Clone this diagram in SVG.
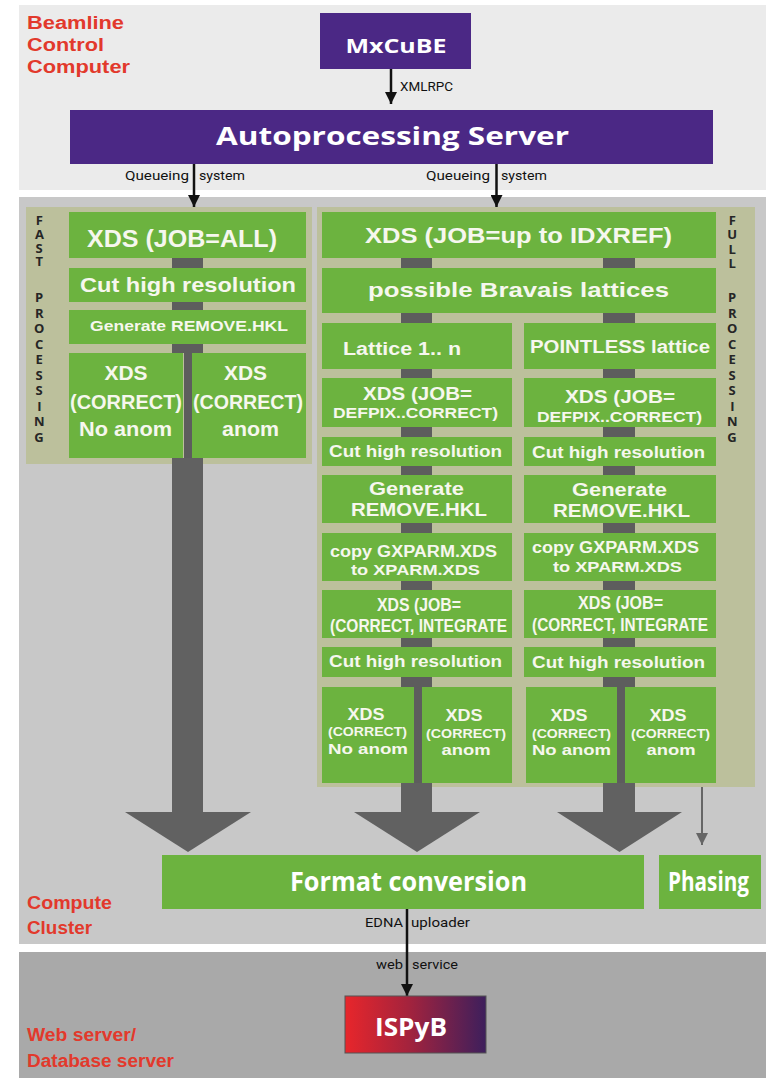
<svg xmlns="http://www.w3.org/2000/svg" width="769" height="1078" viewBox="0 0 769 1078">
<defs>
<style>
.pt{fill:#ebebeb}.pm{fill:#c8c8c8}.pb{fill:#a9a9a9}
.bg{fill:#bcc09c}
.g{fill:#6cb33f}
.pu{fill:#4b2885}
.st{fill:#5d5d5d}
.big{fill:#616161}
.t{font-family:"Liberation Sans",Arial,sans-serif;font-weight:700;fill:#f6f7ee;text-anchor:middle}
.w{font-family:"Open Sans","DejaVu Sans",sans-serif;font-weight:700;fill:#ffffff;text-anchor:middle}
.lb{font-family:"Liberation Sans",Arial,sans-serif;font-weight:700;fill:#e2392c;font-size:18px}
.sm{font-family:Roboto,"Liberation Sans",sans-serif;font-size:13px;fill:#111}
.vt{font-family:"Open Sans","DejaVu Sans",sans-serif;font-weight:700;font-size:13px;fill:#262626;writing-mode:vertical-rl;text-orientation:upright}
.ar{stroke:#111;stroke-width:2.5;fill:none}
.arg{stroke:#666;stroke-width:2;fill:none}
</style>
<marker id="ah" viewBox="0 0 10 10" refX="10" refY="5" markerWidth="12" markerHeight="12" markerUnits="userSpaceOnUse" orient="auto"><path d="M0,0L10,5L0,10z" fill="#111"/></marker>
<marker id="ahg" viewBox="0 0 10 10" refX="10" refY="5" markerWidth="14" markerHeight="12" markerUnits="userSpaceOnUse" orient="auto"><path d="M0,0L10,5L0,10z" fill="#666"/></marker>
<linearGradient id="isp" x1="0" y1="0" x2="1" y2="0"><stop offset="0" stop-color="#e8262b"/><stop offset="0.45" stop-color="#a4233d"/><stop offset="1" stop-color="#3d1f5c"/></linearGradient>
</defs>

<g id="panel-beamline">
<rect class="pt" x="19" y="5" width="747" height="185"/>
<text class="lb" x="27" y="29" font-size="17" textLength="97" lengthAdjust="spacingAndGlyphs">Beamline</text>
<text class="lb" x="27" y="51" font-size="17" textLength="77" lengthAdjust="spacingAndGlyphs">Control</text>
<text class="lb" x="27" y="73" font-size="17" textLength="103" lengthAdjust="spacingAndGlyphs">Computer</text>
</g>
<g id="panel-cluster">
<rect class="pm" x="19" y="197" width="747" height="747"/>
<text class="lb" x="27" y="909" textLength="85" lengthAdjust="spacingAndGlyphs">Compute</text>
<text class="lb" x="27" y="934" textLength="65" lengthAdjust="spacingAndGlyphs">Cluster</text>
</g>
<g id="panel-web">
<rect class="pb" x="19" y="952" width="747" height="126"/>
<text class="lb" x="27" y="1041" textLength="109" lengthAdjust="spacingAndGlyphs">Web server/</text>
<text class="lb" x="27" y="1067" textLength="147" lengthAdjust="spacingAndGlyphs">Database server</text>
</g>

<g id="mxcube">
<rect class="pu" x="320" y="13" width="151" height="56"/>
<text class="w" x="396" y="53" font-size="19" textLength="101" lengthAdjust="spacingAndGlyphs">MxCuBE</text>
</g>
<g id="autoprocessing-server">
<rect class="pu" x="70" y="110" width="643" height="54"/>
<text class="w" x="392.5" y="144.5" font-size="25" textLength="353" lengthAdjust="spacingAndGlyphs">Autoprocessing Server</text>
</g>

<g id="fast-processing">
<rect class="bg" x="26" y="207" width="286" height="257"/>
<text class="vt" x="39" y="211" letter-spacing="-4.2">FAST</text>
<text class="vt" x="39" y="288" letter-spacing="-2.5">PROCESSING</text>
</g>
<g id="full-processing">
<rect class="bg" x="317" y="207" width="438" height="580"/>
<text class="vt" x="732" y="211" letter-spacing="-3.7">FULL</text>
<text class="vt" x="732" y="288" letter-spacing="-2.5">PROCESSING</text>
</g>

<g id="connectors">
<line class="ar" x1="391" y1="69" x2="391" y2="104" marker-end="url(#ah)"/>
<text class="sm" x="400" y="91" textLength="53" lengthAdjust="spacingAndGlyphs">XMLRPC</text>
<line class="ar" x1="194" y1="164" x2="194" y2="207" marker-end="url(#ah)"/>
<text class="sm" x="189" y="180" text-anchor="end" textLength="64" lengthAdjust="spacingAndGlyphs">Queueing</text>
<text class="sm" x="199" y="180" textLength="46" lengthAdjust="spacingAndGlyphs">system</text>
<line class="ar" x1="496.5" y1="164" x2="496.5" y2="207" marker-end="url(#ah)"/>
<text class="sm" x="490" y="180" text-anchor="end" textLength="64" lengthAdjust="spacingAndGlyphs">Queueing</text>
<text class="sm" x="501" y="180" textLength="46" lengthAdjust="spacingAndGlyphs">system</text>
<rect class="st" x="172" y="258" width="31" height="10"/>
<rect class="st" x="172" y="302" width="31" height="8"/>
<rect class="st" x="172" y="344" width="31" height="9"/>
<rect class="st" x="184" y="344" width="8" height="114"/>
<rect class="big" x="172" y="458" width="31" height="355"/>
<polygon class="big" points="125,812 251,812 188,852"/>
<rect class="st" x="401" y="258" width="31" height="10"/>
<rect class="st" x="401" y="313" width="31" height="10"/>
<rect class="st" x="401" y="369" width="31" height="9"/>
<rect class="st" x="401" y="427" width="31" height="10"/>
<rect class="st" x="401" y="466" width="31" height="9"/>
<rect class="st" x="401" y="523" width="31" height="10"/>
<rect class="st" x="401" y="581" width="31" height="9"/>
<rect class="st" x="401" y="638" width="31" height="9"/>
<rect class="st" x="401" y="677" width="31" height="10"/>
<rect class="st" x="414" y="677" width="8" height="106"/>
<rect class="big" x="401" y="783" width="31" height="30"/>
<polygon class="big" points="354,812 480,812 417,852"/>
<rect class="st" x="603" y="258" width="32" height="10"/>
<rect class="st" x="603" y="313" width="32" height="10"/>
<rect class="st" x="603" y="369" width="32" height="9"/>
<rect class="st" x="603" y="427" width="32" height="10"/>
<rect class="st" x="603" y="466" width="32" height="9"/>
<rect class="st" x="603" y="523" width="32" height="10"/>
<rect class="st" x="603" y="581" width="32" height="9"/>
<rect class="st" x="603" y="638" width="32" height="9"/>
<rect class="st" x="603" y="677" width="32" height="10"/>
<rect class="st" x="617" y="677" width="8" height="106"/>
<rect class="big" x="603" y="783" width="32" height="30"/>
<polygon class="big" points="557,812 682,812 619.5,852"/>
<line class="arg" x1="702" y1="787" x2="702" y2="845" marker-end="url(#ahg)"/>
<line class="ar" x1="407" y1="909" x2="407" y2="996" marker-end="url(#ah)"/>
<text class="sm" x="403" y="927" text-anchor="end" textLength="38" lengthAdjust="spacingAndGlyphs">EDNA</text>
<text class="sm" x="411" y="927" textLength="59" lengthAdjust="spacingAndGlyphs">uploader</text>
<text class="sm" x="403" y="969" text-anchor="end" textLength="27" lengthAdjust="spacingAndGlyphs">web</text>
<text class="sm" x="412" y="969" textLength="46" lengthAdjust="spacingAndGlyphs">service</text>
</g>

<g id="fast-xds-all"><rect class="g" x="69" y="212" width="237" height="46"/><text class="t" x="182" y="246.5" font-size="24" textLength="190" lengthAdjust="spacingAndGlyphs">XDS (JOB=ALL)</text></g>
<g id="fast-cut"><rect class="g" x="69" y="268" width="237" height="34"/><text class="t" x="188" y="291.5" font-size="21" textLength="216" lengthAdjust="spacingAndGlyphs">Cut high resolution</text></g>
<g id="fast-remove"><rect class="g" x="69" y="310" width="237" height="34"/><text class="t" x="189" y="331" font-size="15" textLength="198" lengthAdjust="spacingAndGlyphs">Generate REMOVE.HKL</text></g>
<g id="fast-noanom"><rect class="g" x="69" y="353" width="114" height="105"/>
<text class="t" x="126" y="380" font-size="20" textLength="43" lengthAdjust="spacingAndGlyphs">XDS</text>
<text class="t" x="126" y="409" font-size="20" textLength="112" lengthAdjust="spacingAndGlyphs">(CORRECT)</text>
<text class="t" x="125.5" y="436" font-size="20" textLength="93" lengthAdjust="spacingAndGlyphs">No anom</text></g>
<g id="fast-anom"><rect class="g" x="192" y="353" width="114" height="105"/>
<text class="t" x="245.5" y="380" font-size="20" textLength="43" lengthAdjust="spacingAndGlyphs">XDS</text>
<text class="t" x="248" y="409" font-size="20" textLength="110" lengthAdjust="spacingAndGlyphs">(CORRECT)</text>
<text class="t" x="250.5" y="436" font-size="20" textLength="57" lengthAdjust="spacingAndGlyphs">anom</text></g>

<g id="full-xds-idxref"><rect class="g" x="322" y="212" width="394" height="46"/><text class="t" x="518.5" y="243" font-size="22" textLength="307" lengthAdjust="spacingAndGlyphs">XDS (JOB=up to IDXREF)</text></g>
<g id="full-bravais"><rect class="g" x="322" y="268" width="394" height="45"/><text class="t" x="518.5" y="297" font-size="21" textLength="301" lengthAdjust="spacingAndGlyphs">possible Bravais lattices</text></g>

<g id="l-lattice"><rect class="g" x="322" y="323" width="190" height="46"/><text class="t" x="402" y="355" font-size="18" textLength="118" lengthAdjust="spacingAndGlyphs">Lattice 1.. n</text></g>
<g id="r-pointless"><rect class="g" x="524" y="323" width="192" height="46"/><text class="t" x="620" y="352.5" font-size="18" textLength="180" lengthAdjust="spacingAndGlyphs">POINTLESS lattice</text></g>

<g id="l-defpix"><rect class="g" x="322" y="378" width="190" height="49"/>
<text class="t" x="417.5" y="400" font-size="18" textLength="109" lengthAdjust="spacingAndGlyphs">XDS (JOB=</text>
<text class="t" x="415.5" y="418" font-size="15" textLength="165" lengthAdjust="spacingAndGlyphs">DEFPIX..CORRECT)</text></g>
<g id="r-defpix"><rect class="g" x="524" y="378" width="192" height="49"/>
<text class="t" x="620" y="403" font-size="18" textLength="110" lengthAdjust="spacingAndGlyphs">XDS (JOB=</text>
<text class="t" x="619.5" y="421.5" font-size="15" textLength="165" lengthAdjust="spacingAndGlyphs">DEFPIX..CORRECT)</text></g>

<g id="l-cut1"><rect class="g" x="322" y="437" width="190" height="29"/><text class="t" x="415.5" y="456.5" font-size="16" textLength="173" lengthAdjust="spacingAndGlyphs">Cut high resolution</text></g>
<g id="r-cut1"><rect class="g" x="524" y="437" width="192" height="29"/><text class="t" x="618.5" y="458" font-size="16" textLength="173" lengthAdjust="spacingAndGlyphs">Cut high resolution</text></g>

<g id="l-remove"><rect class="g" x="322" y="475" width="190" height="48"/>
<text class="t" x="416.5" y="495" font-size="18" textLength="95" lengthAdjust="spacingAndGlyphs">Generate</text>
<text class="t" x="419" y="516" font-size="18" textLength="136" lengthAdjust="spacingAndGlyphs">REMOVE.HKL</text></g>
<g id="r-remove"><rect class="g" x="524" y="475" width="192" height="48"/>
<text class="t" x="619.5" y="496" font-size="18" textLength="95" lengthAdjust="spacingAndGlyphs">Generate</text>
<text class="t" x="621.5" y="517" font-size="18" textLength="137" lengthAdjust="spacingAndGlyphs">REMOVE.HKL</text></g>

<g id="l-copy"><rect class="g" x="322" y="533" width="190" height="48"/>
<text class="t" x="413.5" y="556.5" font-size="16" textLength="167" lengthAdjust="spacingAndGlyphs">copy GXPARM.XDS</text>
<text class="t" x="415.5" y="574.5" font-size="15" textLength="129" lengthAdjust="spacingAndGlyphs">to XPARM.XDS</text></g>
<g id="r-copy"><rect class="g" x="524" y="533" width="192" height="48"/>
<text class="t" x="615.5" y="553" font-size="16" textLength="167" lengthAdjust="spacingAndGlyphs">copy GXPARM.XDS</text>
<text class="t" x="617.5" y="571.5" font-size="15" textLength="129" lengthAdjust="spacingAndGlyphs">to XPARM.XDS</text></g>

<g id="l-integrate"><rect class="g" x="322" y="590" width="190" height="48"/>
<text class="t" x="419" y="611" font-size="18" textLength="84" lengthAdjust="spacingAndGlyphs">XDS (JOB=</text>
<text class="t" x="418.5" y="632" font-size="18" textLength="177" lengthAdjust="spacingAndGlyphs">(CORRECT, INTEGRATE</text></g>
<g id="r-integrate"><rect class="g" x="524" y="590" width="192" height="48"/>
<text class="t" x="620.5" y="609" font-size="18" textLength="85" lengthAdjust="spacingAndGlyphs">XDS (JOB=</text>
<text class="t" x="620" y="630.5" font-size="18" textLength="176" lengthAdjust="spacingAndGlyphs">(CORRECT, INTEGRATE</text></g>

<g id="l-cut2"><rect class="g" x="322" y="647" width="190" height="30"/><text class="t" x="415.5" y="667" font-size="16" textLength="173" lengthAdjust="spacingAndGlyphs">Cut high resolution</text></g>
<g id="r-cut2"><rect class="g" x="524" y="647" width="192" height="30"/><text class="t" x="618.5" y="668" font-size="16" textLength="173" lengthAdjust="spacingAndGlyphs">Cut high resolution</text></g>

<g id="l-noanom"><rect class="g" x="322" y="687" width="92" height="96"/>
<text class="t" x="366" y="720" font-size="16" textLength="37" lengthAdjust="spacingAndGlyphs">XDS</text>
<text class="t" x="367.5" y="736" font-size="13" textLength="79" lengthAdjust="spacingAndGlyphs">(CORRECT)</text>
<text class="t" x="368" y="753.5" font-size="15" textLength="80" lengthAdjust="spacingAndGlyphs">No anom</text></g>
<g id="l-anom"><rect class="g" x="422" y="687" width="90" height="96"/>
<text class="t" x="464" y="721" font-size="16" textLength="37" lengthAdjust="spacingAndGlyphs">XDS</text>
<text class="t" x="466" y="737.5" font-size="13" textLength="80" lengthAdjust="spacingAndGlyphs">(CORRECT)</text>
<text class="t" x="466" y="754.5" font-size="15" textLength="49" lengthAdjust="spacingAndGlyphs">anom</text></g>
<g id="r-noanom"><rect class="g" x="526" y="687" width="91" height="96"/>
<text class="t" x="569" y="721" font-size="16" textLength="37" lengthAdjust="spacingAndGlyphs">XDS</text>
<text class="t" x="571.5" y="737.5" font-size="13" textLength="79" lengthAdjust="spacingAndGlyphs">(CORRECT)</text>
<text class="t" x="571.5" y="754.5" font-size="15" textLength="79" lengthAdjust="spacingAndGlyphs">No anom</text></g>
<g id="r-anom"><rect class="g" x="625" y="687" width="91" height="96"/>
<text class="t" x="668" y="721" font-size="16" textLength="37" lengthAdjust="spacingAndGlyphs">XDS</text>
<text class="t" x="670.5" y="737.5" font-size="13" textLength="79" lengthAdjust="spacingAndGlyphs">(CORRECT)</text>
<text class="t" x="671" y="754.5" font-size="15" textLength="49" lengthAdjust="spacingAndGlyphs">anom</text></g>

<g id="format-conversion"><rect class="g" x="162" y="855" width="482" height="54"/><text class="w" x="408.5" y="890.5" font-size="26" textLength="237" lengthAdjust="spacingAndGlyphs">Format conversion</text></g>
<g id="phasing"><rect class="g" x="659" y="855" width="102" height="54"/><text class="w" x="708.5" y="890.5" font-size="26" textLength="81" lengthAdjust="spacingAndGlyphs">Phasing</text></g>
<g id="ispyb"><rect x="345" y="996" width="141" height="57" fill="url(#isp)" stroke="#555" stroke-width="1"/><text class="w" x="411" y="1035.5" font-size="25" textLength="72" lengthAdjust="spacingAndGlyphs">ISPyB</text></g>
</svg>
